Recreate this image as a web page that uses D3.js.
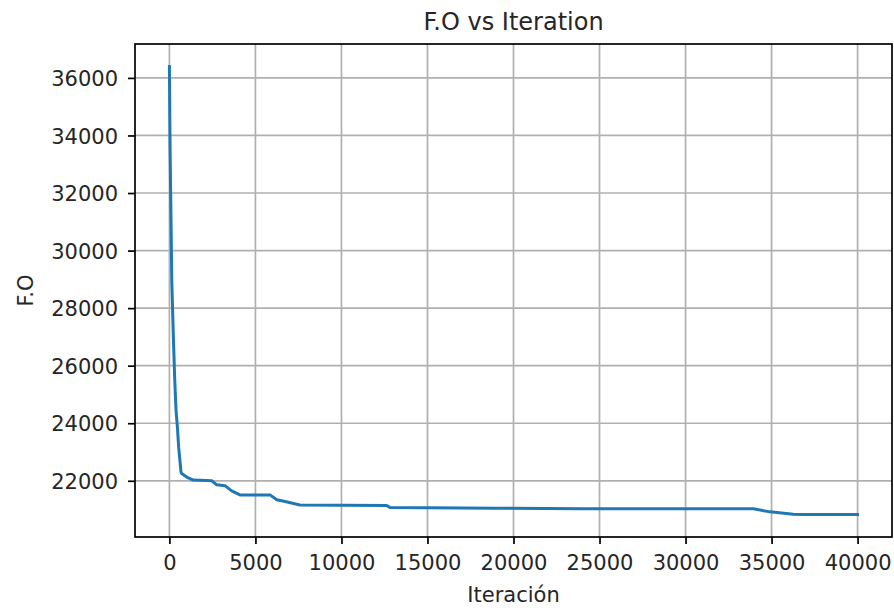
<!DOCTYPE html>
<html>
<head>
<meta charset="utf-8">
<script src="https://cdn.jsdelivr.net/npm/d3@7"></script>
<style>
  body { margin: 0; background: #fff; }
  text { font-family: "DejaVu Sans", sans-serif; fill: #262626; }
</style>
</head>
<body>
<div id="chart"></div>
<script>
// data
var iterations = [0, 40, 140, 230, 310, 385, 460, 540, 675, 715, 1000, 1390, 2460, 2750, 3230, 3620, 4100,
  5850, 6240, 6720, 7590, 12630, 12820, 19020, 24040, 33940, 34910, 36260, 36830, 40000];
var fo = [36400, 33500, 28900, 27000, 25500, 24450, 23900, 23150, 22300, 22250, 22130, 22025, 22000, 21860, 21830, 21650, 21510,
  21510, 21340, 21280, 21160, 21140, 21070, 21045, 21025, 21025, 20920, 20840, 20825, 20825];
var xTicks = [0, 5000, 10000, 15000, 20000, 25000, 30000, 35000, 40000];
var yTicks = [22000, 24000, 26000, 28000, 30000, 32000, 34000, 36000];

var svgWidth = 894;
var svgHeight = 608;
var margin = { top: 44, right: 2, bottom: 71, left: 135 };
var width = svgWidth - margin.left - margin.right;
var height = svgHeight - margin.top - margin.bottom;

var svg = d3.select("#chart")
  .append("svg")
  .attr("width", svgWidth)
  .attr("height", svgHeight);

svg.append("rect").attr("width", svgWidth).attr("height", svgHeight).attr("fill", "#fff");

var chartGroup = svg.append("g")
  .attr("transform", `translate(${margin.left}, ${margin.top})`);

// matplotlib style 5% margins
var xMax = d3.max(iterations), xMin = d3.min(iterations);
var xPad = (xMax - xMin) * 0.05;
var yMax = d3.max(fo), yMin = d3.min(fo);
var yPad = (yMax - yMin) * 0.05;

var xScale = d3.scaleLinear()
  .domain([xMin - xPad, xMax + xPad])
  .range([0, width]);

var yScale = d3.scaleLinear()
  .domain([yMin - yPad, yMax + yPad])
  .range([height, 0]);

// grid
chartGroup.append("g")
  .selectAll("line")
  .data(xTicks)
  .enter()
  .append("line")
  .attr("x1", d => xScale(d)).attr("x2", d => xScale(d))
  .attr("y1", 0).attr("y2", height)
  .attr("stroke", "#b0b0b0")
  .attr("stroke-width", 1.7);

chartGroup.append("g")
  .selectAll("line")
  .data(yTicks)
  .enter()
  .append("line")
  .attr("x1", 0).attr("x2", width)
  .attr("y1", d => yScale(d)).attr("y2", d => yScale(d))
  .attr("stroke", "#b0b0b0")
  .attr("stroke-width", 1.7);

// axes
var bottomAxis = d3.axisBottom(xScale).tickValues(xTicks).tickFormat(d3.format("d")).tickSize(7).tickPadding(6);
var leftAxis = d3.axisLeft(yScale).tickValues(yTicks).tickFormat(d3.format("d")).tickSize(7).tickPadding(10);

var xAxisG = chartGroup.append("g")
  .attr("transform", `translate(0, ${height})`)
  .call(bottomAxis);

var yAxisG = chartGroup.append("g")
  .call(leftAxis);

[xAxisG, yAxisG].forEach(function(g) {
  g.select(".domain").remove();
  g.selectAll(".tick line").attr("stroke", "#000").attr("stroke-width", 1.7);
  g.selectAll(".tick text")
    .style("font-family", "DejaVu Sans, sans-serif")
    .style("font-size", "21px")
    .attr("fill", "#262626");
});
xAxisG.selectAll(".tick text").attr("dy", "0.95em");
yAxisG.selectAll(".tick text").attr("dy", "0.36em");

// line
var line = d3.line()
  .x((d, i) => xScale(iterations[i]))
  .y(d => yScale(d));

chartGroup.append("path")
  .datum(fo)
  .attr("d", line)
  .attr("fill", "none")
  .attr("stroke", "#1f77b4")
  .attr("stroke-width", 3)
  .attr("stroke-linejoin", "round")
  .attr("stroke-linecap", "square");

// frame
chartGroup.append("rect")
  .attr("width", width)
  .attr("height", height)
  .attr("fill", "none")
  .attr("stroke", "#000")
  .attr("stroke-width", 1.7);

// labels
svg.append("text")
  .attr("x", margin.left + width / 2)
  .attr("y", 30)
  .attr("text-anchor", "middle")
  .style("font-size", "24px")
  .text("F.O vs Iteration");

svg.append("text")
  .attr("x", margin.left + width / 2)
  .attr("y", 602)
  .attr("text-anchor", "middle")
  .style("font-size", "21px")
  .text("Iteración");

svg.append("text")
  .attr("transform", `translate(33, ${margin.top + height / 2}) rotate(-90)`)
  .attr("text-anchor", "middle")
  .style("font-size", "21px")
  .text("F.O");
</script>
</body>
</html>
